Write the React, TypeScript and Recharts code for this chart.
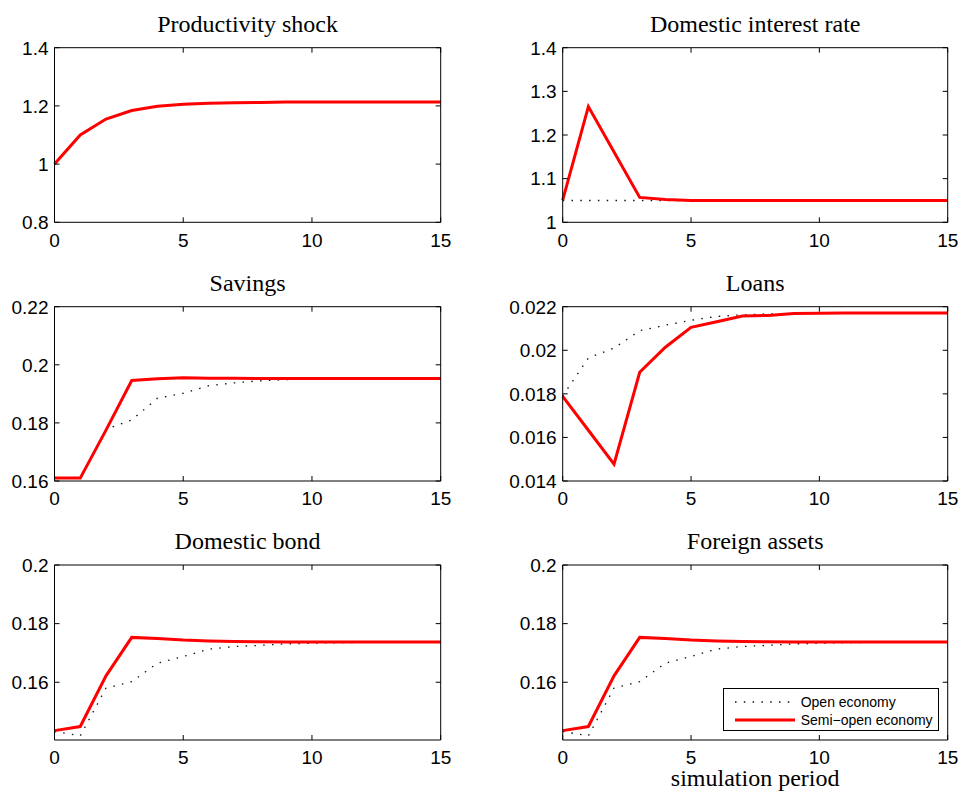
import React from 'react';
import { LineChart, Line, XAxis, YAxis, Legend } from 'recharts';

const periods = [0, 1, 2, 3, 4, 5, 6, 7, 8, 9, 10, 11, 12, 13, 14, 15];
const xTicks = [0, 5, 10, 15];

const productivityOpen = [1, 1.1, 1.155, 1.184, 1.199, 1.206, 1.209, 1.211, 1.212, 1.213, 1.213, 1.213, 1.213, 1.213, 1.213, 1.213];
const productivitySemi = [1, 1.1, 1.155, 1.184, 1.199, 1.206, 1.209, 1.211, 1.212, 1.213, 1.213, 1.213, 1.213, 1.213, 1.213, 1.213];

const interestOpen = [1.05, 1.05, 1.05, 1.05, 1.05, 1.05, 1.05, 1.05, 1.05, 1.05, 1.05, 1.05, 1.05, 1.05, 1.05, 1.05];
const interestSemi = [1.051, 1.265, 1.161, 1.057, 1.052, 1.05, 1.05, 1.05, 1.05, 1.05, 1.05, 1.05, 1.05, 1.05, 1.05, 1.05];

const savingsOpen = [0.161, 0.161, 0.1778, 0.181, 0.1885, 0.1902, 0.1928, 0.1938, 0.1945, 0.1949, 0.1951, 0.1952, 0.1953, 0.1953, 0.1953, 0.1953];
const savingsSemi = [0.161, 0.161, 0.1775, 0.1946, 0.1952, 0.1955, 0.1954, 0.1954, 0.1953, 0.1953, 0.1953, 0.1953, 0.1953, 0.1953, 0.1953, 0.1953];

const loansOpen = [0.0179, 0.01965, 0.0201, 0.0209, 0.02115, 0.02138, 0.02155, 0.02163, 0.02167, 0.02169, 0.0217, 0.02171, 0.02171, 0.02171, 0.02171, 0.02171];
const loansSemi = [0.01788, 0.01633, 0.01477, 0.01899, 0.02014, 0.02105, 0.02131, 0.02157, 0.0216, 0.02169, 0.0217, 0.02171, 0.02171, 0.02171, 0.02171, 0.02171];

const bondOpen = [0.1432, 0.1417, 0.158, 0.1602, 0.1665, 0.1688, 0.1713, 0.1722, 0.1726, 0.1731, 0.1733, 0.1735, 0.1736, 0.1736, 0.1736, 0.1736];
const bondSemi = [0.1435, 0.1449, 0.1622, 0.1753, 0.1749, 0.1744, 0.1741, 0.1739, 0.1738, 0.1737, 0.1737, 0.1737, 0.1737, 0.1737, 0.1737, 0.1737];

const foreignOpen = [0.1432, 0.1417, 0.158, 0.1602, 0.1665, 0.1688, 0.1713, 0.1722, 0.1726, 0.1731, 0.1733, 0.1735, 0.1736, 0.1736, 0.1736, 0.1736];
const foreignSemi = [0.1435, 0.1449, 0.1622, 0.1753, 0.1749, 0.1744, 0.1741, 0.1739, 0.1738, 0.1737, 0.1737, 0.1737, 0.1737, 0.1737, 0.1737, 0.1737];

const productivityTicks = [0.8, 1, 1.2, 1.4];
const interestTicks = [1, 1.1, 1.2, 1.3, 1.4];
const savingsTicks = [0.16, 0.18, 0.2, 0.22];
const loansTicks = [0.014, 0.016, 0.018, 0.02, 0.022];
const bondTicks = [0.16, 0.18, 0.2];

const titles = ['Productivity shock', 'Domestic interest rate', 'Savings', 'Loans', 'Domestic bond', 'Foreign assets'];
const seriesNames = ['Open economy', 'Semi\u2212open economy'];
const xLabel = 'simulation period';

const FONT_SANS = '"Liberation Sans", Arial, Helvetica, sans-serif';
const FONT_SERIF = '"Liberation Serif", "Times New Roman", serif';

const fmt = (v: number) => String(parseFloat(Number(v).toPrecision(6)));

const cols = [
  { x: 0, w: 481, pl: 54.5, pr: 440.7 },
  { x: 481, w: 481, pl: 562.7, pr: 947.7 },
];
const rows = [
  { y: 0, h: 260, pt: 47.7, pb: 222.3 },
  { y: 260, h: 260, pt: 306.7, pb: 481 },
  { y: 520, h: 274, pt: 565, pb: 740 },
];

const AX = 1; // axis band thickness

const lineStyle: Record<string, { stroke: string; width: number; dash?: string }> = {
  open: { stroke: '#111', width: 1.3, dash: '1.5 7.3' },
  semi: { stroke: '#ff0000', width: 3 },
};

const BottomTick = (p: any) => (
  <g>
    <line x1={p.x} x2={p.x} y1={p.y} y2={p.y - 5} stroke="#000" strokeWidth={1} />
    <text x={p.x} y={p.y + 24.4} textAnchor="middle" fontSize={19} fontFamily={FONT_SANS} fill="#000">
      {fmt(p.payload.value)}
    </text>
  </g>
);
const LeftTick = (p: any) => (
  <g>
    <line x1={p.x} x2={p.x + 5} y1={p.y} y2={p.y} stroke="#000" strokeWidth={1} />
    <text x={p.x - 6} y={p.y + 6.8} textAnchor="end" fontSize={19} fontFamily={FONT_SANS} fill="#000">
      {fmt(p.payload.value)}
    </text>
  </g>
);
const TopTick = (p: any) => <line x1={p.x} x2={p.x} y1={p.y} y2={p.y + 5} stroke="#000" strokeWidth={1} />;
const RightTick = (p: any) => <line x1={p.x} x2={p.x - 5} y1={p.y} y2={p.y} stroke="#000" strokeWidth={1} />;

const LegendBox = (props: any) => {
  const payload = props.payload || [];
  return (
    <div
      style={{
        position: 'relative',
        width: 216,
        height: 43,
        border: '1px solid #000',
        background: '#fff',
        boxSizing: 'border-box',
        fontFamily: FONT_SANS,
        fontSize: 14,
        color: '#000',
      }}
    >
      {payload.map((e: any, i: number) => {
        const st = lineStyle[e.dataKey as string] || lineStyle.semi;
        return (
          <div key={i} style={{ position: 'absolute', left: 0, top: i === 0 ? 3.4 : 21.7, height: 18, width: '100%' }}>
            <svg style={{ position: 'absolute', left: 11, top: 0 }} width={60} height={18}>
              <line x1={0} x2={60} y1={9} y2={9} stroke={st.stroke} strokeWidth={st.width} strokeDasharray={st.dash} />
            </svg>
            <span style={{ position: 'absolute', left: 77, top: 0, lineHeight: '18px', whiteSpace: 'nowrap' }}>{e.value}</span>
          </div>
        );
      })}
    </div>
  );
};

type PanelProps = {
  col: number;
  row: number;
  open: number[];
  semi: number[];
  yDomain: [number, number];
  yTicks: number[];
  legend?: boolean;
};

const Panel = ({ col, row, open, semi, yDomain, yTicks, legend }: PanelProps) => {
  const c = cols[col];
  const r = rows[row];
  const data = periods.map((t, i) => ({ t, open: open[i], semi: semi[i] }));
  const margin = {
    left: c.pl - c.x - AX,
    right: c.x + c.w - c.pr - AX,
    top: r.pt - r.y - AX,
    bottom: r.y + r.h - r.pb - AX,
  };
  return (
    <div style={{ position: 'absolute', left: c.x, top: r.y, width: c.w, height: r.h }}>
      <LineChart width={c.w} height={r.h} data={data} margin={margin}>
        <XAxis
          dataKey="t"
          type="number"
          domain={[0, 15]}
          ticks={xTicks}
          interval={0}
          height={AX}
          tickSize={0}
          tickMargin={0}
          tickLine={false}
          axisLine={{ stroke: '#000', strokeWidth: 1 }}
          tick={BottomTick}
        />
        <XAxis
          xAxisId="top"
          orientation="top"
          type="number"
          domain={[0, 15]}
          ticks={xTicks}
          interval={0}
          height={AX}
          tickSize={0}
          tickMargin={0}
          tickLine={false}
          axisLine={{ stroke: '#000', strokeWidth: 1 }}
          tick={TopTick}
        />
        <YAxis
          type="number"
          domain={yDomain}
          ticks={yTicks}
          interval={0}
          width={AX}
          tickSize={0}
          tickMargin={0}
          tickLine={false}
          allowDataOverflow
          axisLine={{ stroke: '#000', strokeWidth: 1 }}
          tick={LeftTick}
        />
        <YAxis
          yAxisId="right"
          orientation="right"
          type="number"
          domain={yDomain}
          ticks={yTicks}
          interval={0}
          width={AX}
          tickSize={0}
          tickMargin={0}
          tickLine={false}
          allowDataOverflow
          axisLine={{ stroke: '#000', strokeWidth: 1 }}
          tick={RightTick}
        />
        <Line
          dataKey="open"
          name={seriesNames[0]}
          type="linear"
          stroke={lineStyle.open.stroke}
          strokeWidth={lineStyle.open.width}
          strokeDasharray={lineStyle.open.dash}
          dot={false}
          activeDot={false}
          isAnimationActive={false}
        />
        <Line
          dataKey="semi"
          name={seriesNames[1]}
          type="linear"
          stroke={lineStyle.semi.stroke}
          strokeWidth={lineStyle.semi.width}
          dot={false}
          activeDot={false}
          isAnimationActive={false}
        />
        {legend ? (
          <Legend
            layout="horizontal"
            verticalAlign="middle"
            align="center"
            content={LegendBox}
            wrapperStyle={{ left: 722.7 - c.x, top: 688.3 - r.y, width: 216, height: 43 }}
          />
        ) : null}
      </LineChart>
    </div>
  );
};

export default function App() {
  const titleItems = titles.map((t, i) => {
    const c = cols[i % 2];
    const r = rows[Math.floor(i / 2)];
    return { t, x: (c.pl + c.pr) / 2, y: r.pt - 15.6 };
  });
  return (
    <div style={{ position: 'absolute', left: 0, top: 0, width: 962, height: 794, background: '#fff', overflow: 'hidden' }}>
      <Panel col={0} row={0} open={productivityOpen} semi={productivitySemi} yDomain={[0.8, 1.4]} yTicks={productivityTicks} />
      <Panel col={1} row={0} open={interestOpen} semi={interestSemi} yDomain={[1, 1.4]} yTicks={interestTicks} />
      <Panel col={0} row={1} open={savingsOpen} semi={savingsSemi} yDomain={[0.16, 0.22]} yTicks={savingsTicks} />
      <Panel col={1} row={1} open={loansOpen} semi={loansSemi} yDomain={[0.014, 0.022]} yTicks={loansTicks} />
      <Panel col={0} row={2} open={bondOpen} semi={bondSemi} yDomain={[0.1403, 0.2]} yTicks={bondTicks} />
      <Panel col={1} row={2} open={foreignOpen} semi={foreignSemi} yDomain={[0.1403, 0.2]} yTicks={bondTicks} legend />
      <svg width={962} height={794} style={{ position: 'absolute', left: 0, top: 0, pointerEvents: 'none' }}>
        {titleItems.map((it, i) => (
          <text key={i} x={it.x} y={it.y} textAnchor="middle" fontSize={24} fontFamily={FONT_SERIF} fill="#000">
            {it.t}
          </text>
        ))}
        <text x={(cols[1].pl + cols[1].pr) / 2} y={785.5} textAnchor="middle" fontSize={24} fontFamily={FONT_SERIF} fill="#000">
          {xLabel}
        </text>
      </svg>
    </div>
  );
}
